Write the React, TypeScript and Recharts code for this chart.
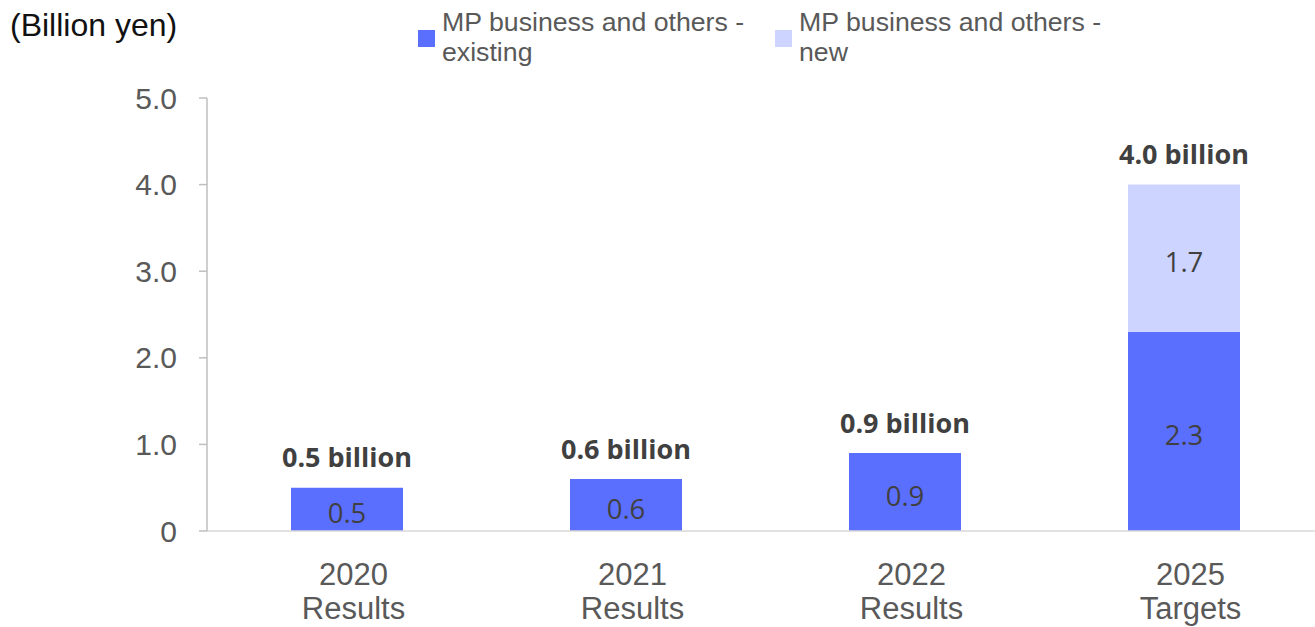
import React from "react";
import { BarChart, Bar, XAxis, YAxis, LabelList } from "recharts";

const categories = ["2020", "2021", "2022", "2025"];
const subLabels = ["Results", "Results", "Results", "Targets"];
const existingValues = [0.5, 0.6, 0.9, 2.3];
const newValues = [0, 0, 0, 1.7];
const totalLabels = ["0.5 billion", "0.6 billion", "0.9 billion", "4.0 billion"];
const yTicks = [0, 1, 2, 3, 4, 5];
const seriesNames = ["MP business and others - existing", "MP business and others - new"];

const COLOR_EXISTING = "#5B6FFF";
const COLOR_NEW = "#CDD4FF";

const data = categories.map((c, i) => ({
  name: c,
  sub: subLabels[i],
  existing: existingValues[i],
  added: newValues[i],
  total: totalLabels[i],
}));

const XTick = (props: any) => {
  const { x, y, payload, index } = props;
  const cx = x + 7;
  return (
    <text
      x={cx}
      y={y}
      textAnchor="middle"
      fontFamily="'Liberation Sans', Arial, sans-serif"
      fontSize={31}
      fill="#595959"
    >
      <tspan x={cx} dy={46}>{payload.value}</tspan>
      <tspan x={cx} dy={34}>{subLabels[index]}</tspan>
    </text>
  );
};

const TotalLabel = (props: any) => {
  const { x, y, width, height, index } = props;
  const ex = existingValues[index];
  const add = newValues[index] || 0;
  const pxPerUnit = ex ? height / ex : 0;
  const top = y - add * pxPerUnit;
  return (
    <text
      x={x + width / 2}
      y={top - 31}
      textAnchor="middle"
      dominantBaseline="central"
      fontFamily="'Open Sans', sans-serif"
      fontWeight={700}
      fontSize={27}
      fill="#404040"
    >
      {totalLabels[index]}
    </text>
  );
};

const InnerLabel = (props: any) => {
  const { x, y, width, height, value } = props;
  if (!value) return null;
  return (
    <text
      x={x + width / 2}
      y={y + height / 2 + 3}
      textAnchor="middle"
      dominantBaseline="central"
      fontFamily="'Open Sans', sans-serif"
      fontSize={27.5}
      fill="#404040"
    >
      {Number(value).toFixed(1)}
    </text>
  );
};

const LegendBlock = () => {
  const items = [
    { color: COLOR_EXISTING, name: seriesNames[0], left: 418 },
    { color: COLOR_NEW, name: seriesNames[1], left: 775 },
  ];
  return (
    <div style={{ position: "absolute", left: 0, top: 0, width: 1315, height: 80 }}>
      {items.map((it) => {
        const parts = it.name.split(" - ");
        return (
          <div key={it.name}>
            <div
              style={{
                position: "absolute",
                left: it.left,
                top: 30,
                width: 17,
                height: 17,
                background: it.color,
              }}
            />
            <div
              style={{
                position: "absolute",
                left: it.left + 24,
                top: 7,
                fontFamily: "'Liberation Sans', Arial, sans-serif",
                fontSize: 26.7,
                lineHeight: "30px",
                color: "#595959",
                whiteSpace: "nowrap",
              }}
            >
              <div>{parts[0] + " -"}</div>
              <div>{parts[1]}</div>
            </div>
          </div>
        );
      })}
    </div>
  );
};

export default function App() {
  return (
    <div
      style={{
        position: "absolute",
        left: 0,
        top: 0,
        width: 1315,
        height: 627,
        overflow: "hidden",
        background: "#fff",
      }}
    >
      <div
        style={{
          position: "absolute",
          left: 10,
          top: 7,
          fontFamily: "'Liberation Sans', Arial, sans-serif",
          fontSize: 32,
          lineHeight: "36px",
          color: "#111",
          whiteSpace: "nowrap",
        }}
      >
        (Billion yen)
      </div>
      <LegendBlock />
      <BarChart
        width={1330}
        height={627}
        data={data}
        margin={{ top: 98, right: 7, left: 127, bottom: 6 }}
        style={{ position: "absolute", left: 0, top: 0 }}
      >
        <XAxis
          dataKey="name"
          tick={<XTick />}
          tickLine={false}
          axisLine={{ stroke: "#D9D9D9", strokeWidth: 1.5 }}
          height={90}
          interval={0}
        />
        <YAxis
          domain={[0, 5]}
          ticks={yTicks}
          width={80}
          tickSize={8}
          tickMargin={22}
          tickLine={{ stroke: "#BFBFBF", strokeWidth: 1.5 }}
          axisLine={{ stroke: "#BFBFBF", strokeWidth: 1.5 }}
          tickFormatter={(v: number) => (v === 0 ? "0" : v.toFixed(1))}
          tick={{
            fontFamily: "'Liberation Sans', Arial, sans-serif",
            fontSize: 30,
            fill: "#595959",
          }}
          interval={0}
        />
        <Bar
          dataKey="existing"
          stackId="a"
          fill={COLOR_EXISTING}
          barSize={112}
          isAnimationActive={false}
        >
          <LabelList dataKey="existing" content={<InnerLabel />} />
          <LabelList dataKey="total" content={<TotalLabel />} />
        </Bar>
        <Bar
          dataKey="added"
          stackId="a"
          fill={COLOR_NEW}
          barSize={112}
          isAnimationActive={false}
        >
          <LabelList dataKey="added" content={<InnerLabel />} />
        </Bar>
      </BarChart>
    </div>
  );
}
